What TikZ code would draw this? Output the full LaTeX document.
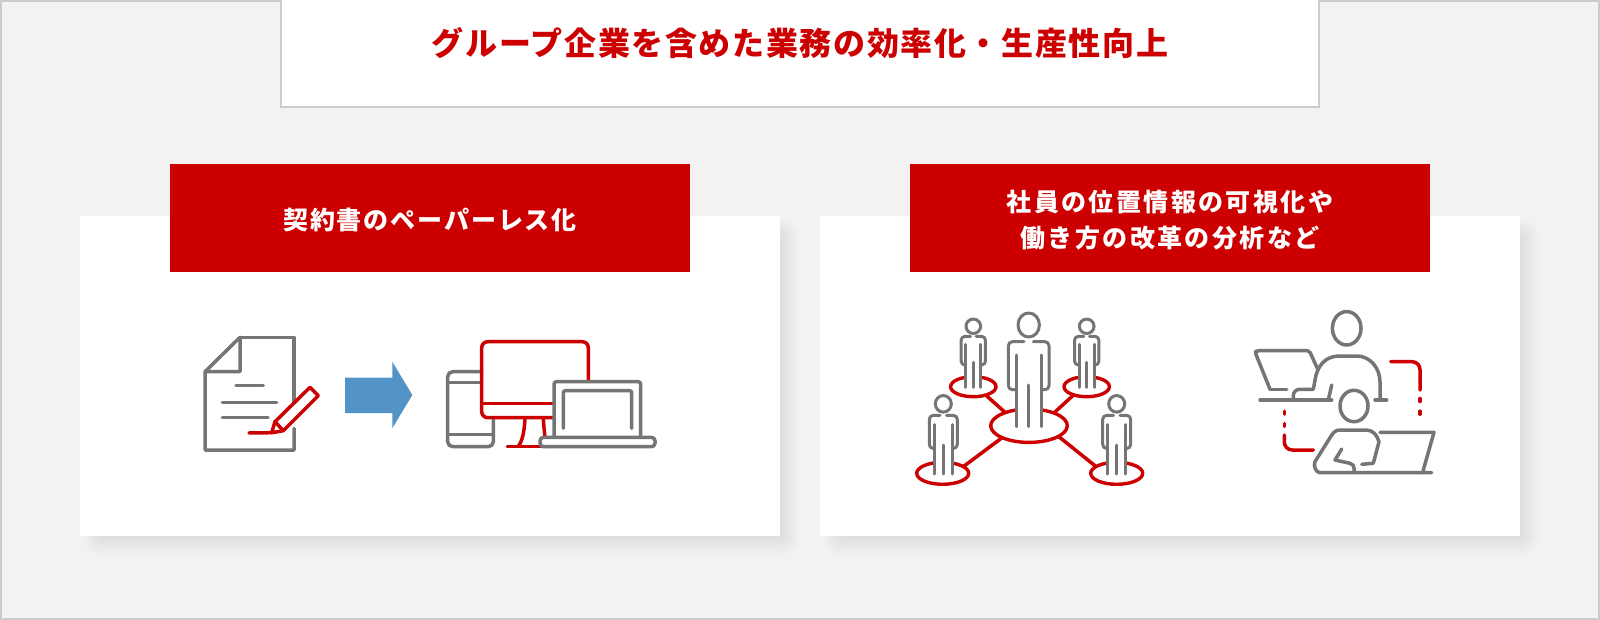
\documentclass[tikz,border=0pt]{standalone}
\usepackage{fontspec}
\usetikzlibrary{shapes.geometric}
\newfontfamily\jptitle[LetterSpace=5.1]{Noto Sans CJK JP}
\newfontfamily\jphead[LetterSpace=7.6]{Noto Sans CJK JP}
\newfontfamily\jpheadwide[LetterSpace=9.6]{Noto Sans CJK JP}
\definecolor{mainred}{HTML}{CC0000}
\definecolor{maingray}{HTML}{757575}
\definecolor{pagegray}{HTML}{F2F2F2}
\definecolor{bordergray}{HTML}{CCCCCC}
\definecolor{arrowblue}{HTML}{5294C8}
\tikzset{
        card/.style={ % White panels
            fill=white,
            minimum width=700pt,
            minimum height=320pt,
            inner sep=0pt},
        headbox/.style={ % Red header over each panel
            fill=mainred,
            minimum width=520pt,
            minimum height=108pt,
            inner sep=0pt},
        headtext/.style={ % Header text, set a little below the middle
            text=white,
            font=\jphead\bfseries\fontsize{25}{35.6}\selectfont,
            align=center,
            inner sep=0pt},
        grayline/.style={ % Gray icon strokes
            draw=maingray,
            line width=3.5pt,
            line cap=round,
            line join=round},
        redline/.style={ % Red icon strokes
            draw=mainred,
            line width=3.5pt,
            line cap=round,
            line join=round},
        spot/.style={ % Ellipses under the people
            ellipse,
            draw=mainred,
            line width=3.4pt,
            inner sep=0pt,
            outer sep=0pt},
        pics/person/.style={code={ % Standing figure, origin between the feet
            \fill[white] (-12.7,-71.7) rectangle (12.7,0);
            \draw[grayline,line width=3pt] (0,-101.7) ellipse [x radius=#1,y radius=12];
            \draw[grayline,line width=3pt,rounded corners=4pt] (-4.7,-85) -- (-20.3,-85) -- (-20.3,-37) -- (-14,-37);
            \draw[grayline,line width=3pt,rounded corners=4pt] (4.7,-85) -- (20.3,-85) -- (20.3,-37) -- (14,-37);
            \draw[grayline,line width=3pt] (-12.7,-71.7) -- (-12.7,0);
            \draw[grayline,line width=3pt] (0,-41.7) -- (0,0);
            \draw[grayline,line width=3pt] (12.7,-71.7) -- (12.7,0);
        }}
        }

\begin{document}
\begin{tikzpicture}[x=1pt,y=-1pt]
    \useasboundingbox (0,0) rectangle (1600,620);
    \fill[pagegray] (0,0) rectangle (1600,620);
    \draw[bordergray,line width=2pt] (1,1) rectangle (1599,619);

    % top box
    \fill[white] (281,0) rectangle (1319,107);
    \draw[bordergray,line width=2pt] (281,0) -- (281,106.8) -- (1319,106.8) -- (1319,0);
    \node[text=mainred,font=\jptitle\bfseries\fontsize{32}{36}\selectfont] (title) at (800,43.5) {グループ企業を含めた業務の効率化・生産性向上};

    % panels
    \foreach \cardx in {430,1170} {
        \foreach \o in {1,...,20} {
            \fill[black,opacity=.003,rounded corners=\o pt] (\cardx-328-\o,238-\o) rectangle (\cardx+350+\o,536+\o);
        }
    }
    \node[card] (leftcard) at (430,376) {};
    \node[card] (rightcard) at (1170,376) {};
    \node[headbox] (lefthead) at (430,218) {};
    \node[headbox] (righthead) at (1170,218) {};
    \node[headtext] (lefttext) at (430,220) {契約書のペーパーレス化};
    \node[headtext,font=\jpheadwide\bfseries\fontsize{25}{35.6}\selectfont] (righttext) at (1170,220) {社員の位置情報の可視化や\\働き方の改革の分析など};

    % document
    \draw[grayline] (240,337.3) -- (294,337.3) -- (294,401.7);
    \draw[grayline] (294,428.3) -- (294,450) -- (205,450) -- (205,371.7) -- (240,337.3) -- (240,371.7) -- (205,371.7);
    \draw[grayline] (236,385.7) -- (263.3,385.7);
    \draw[grayline] (222.3,402.7) -- (276.7,402.7);
    \draw[grayline] (222.3,417.7) -- (268,417.7);
    \draw[redline] (249,433) -- (271.7,432.7);
    \draw[redline,fill=white] (275,421.7) -- (310,387.3) -- (318.3,395.7) -- (283.3,430.7) -- (271.7,432.7) -- cycle;
    \draw[redline] (275,421.7) -- (283.3,430.7);

    % arrow
    \fill[arrowblue] (345,377.7) -- (392.3,377.7) -- (392.3,361.7) -- (412.3,395) -- (392.3,428.3) -- (392.3,413) -- (345,413) -- cycle;

    % phone
    \draw[grayline,rounded corners=5pt] (481.7,371.7) -- (447.7,371.7) -- (447.7,446.7) -- (493.3,446.7) -- (493.3,417.7);
    \draw[grayline] (447.7,382.7) -- (481.7,382.7);
    \draw[grayline] (447.7,434.3) -- (493.3,434.3);

    % monitor
    \draw[redline,rounded corners=6pt] (588.3,381) -- (588.3,341.7) -- (481.7,341.7) -- (481.7,417.7) -- (554,417.7);
    \draw[redline] (481.7,403.3) -- (554,403.3);
    \draw[redline] (525,417.7) .. controls (524.5,432) and (522,442) .. (518,446.7);
    \draw[redline] (543.3,417.7) .. controls (544,430) and (545,440) .. (547,446.7);
    \draw[redline] (507.3,446.7) -- (560,446.7);

    % laptop
    \draw[grayline,fill=white,rounded corners=2.5pt] (554,436) -- (554,381.7) -- (640.7,381.7) -- (640.7,436);
    \draw[grayline,rounded corners=2pt] (563.3,428.3) -- (563.3,390.7) -- (631.7,390.7) -- (631.7,428.3);
    \draw[grayline,fill=white,rounded corners=3.5pt] (540,437.3) -- (540,446.7) -- (655,446.7) -- (655,437.3) -- cycle;

    % network
    \node[spot,minimum width=76.6pt,minimum height=33.4pt] (hub) at (1029,425.7) {};
    \node[spot,minimum width=45.4pt,minimum height=20pt] (spota) at (973.3,386.7) {};
    \node[spot,minimum width=45.4pt,minimum height=20pt] (spotb) at (1086.7,386.7) {};
    \node[spot,minimum width=52pt,minimum height=22pt] (spotc) at (942.7,473.3) {};
    \node[spot,minimum width=52pt,minimum height=22pt] (spotd) at (1116.7,473.3) {};
    \draw[redline] (hub.151) -- (spota.-34);
    \draw[redline] (hub.27) -- (spotb.212);
    \draw[redline] (hub.204) -- (spotc.18);
    \draw[redline] (hub.-20) -- (spotd.162);
    \pic at (1028.7,426.7) {person=10.7};
    \pic[scale=.6] at (973.3,387.3) {person=12.2};
    \pic[scale=.6] at (1086.7,387.3) {person=12.2};
    \pic[scale=.69] at (943.3,474) {person=11.6};
    \pic[scale=.69] at (1116.7,474) {person=11.6};

    % upper worker
    \draw[grayline] (1346.7,328.3) ellipse [x radius=14.3,y radius=16.7];
    \draw[grayline,rounded corners=2pt] (1270,389.3) -- (1255,352) -- (1257,350.7) -- (1309.3,350.7) -- (1317.3,368.3);
    \draw[grayline] (1270,389.3) -- (1286.7,389.3);
    \draw[grayline] (1260,400) -- (1331.7,400);
    \draw[grayline] (1331.7,385) -- (1328.3,400);
    \draw[grayline] (1293.3,400) -- (1293.3,396) .. controls (1293.3,392) and (1296,389.3) .. (1300,389.3) -- (1313.3,389.3) -- (1316,375) .. controls (1320,362) and (1328,356) .. (1340,356) -- (1356.7,356) .. controls (1370,356) and (1380,368) .. (1380,382) -- (1380,400);
    \draw[grayline] (1375,400) -- (1386.7,400);

    % lower worker
    \draw[grayline] (1354,406) ellipse [x radius=14,y radius=15.7];
    \draw[grayline] (1361.7,464.3) -- (1373.3,463.3) -- (1379,441.7) .. controls (1377,435) and (1373,430) .. (1366,430) -- (1340,430) .. controls (1336,430) and (1334,432) .. (1331.7,435) -- (1315,461.7) .. controls (1313,466) and (1316,472.7) .. (1320,472.7) -- (1431.7,472.7);
    \draw[grayline] (1341.7,449) -- (1335,460) -- (1350,463.3) .. controls (1353,464) and (1354,466) .. (1354,468.3) -- (1354,472.7);
    \draw[grayline] (1380,432.3) -- (1434,432.3) -- (1423.3,470) -- (1423.3,472.7);

    % red links
    \draw[redline,rounded corners=8pt] (1390.7,361.7) -- (1420,361.7) -- (1420,390);
    \draw[redline] (1420,398.5) -- (1420,401.5);
    \draw[redline] (1420,411.2) -- (1420,414.2);
    \draw[redline] (1284.3,411.2) -- (1284.3,414.2);
    \draw[redline] (1284.3,423.5) -- (1284.3,426.5);
    \draw[redline,rounded corners=8pt] (1284.3,435) -- (1284.3,450) -- (1313.3,450);
\end{tikzpicture}
\end{document}
